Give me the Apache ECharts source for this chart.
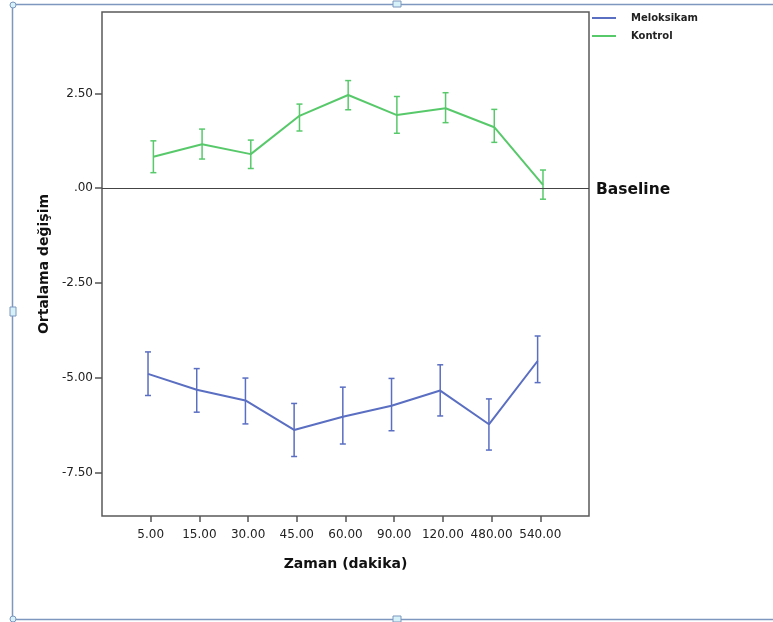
<!DOCTYPE html>
<html>
<head>
<meta charset="utf-8">
<script src="https://cdn.jsdelivr.net/npm/echarts@6/dist/echarts.min.js"></script>
<style>
html,body{margin:0;padding:0;background:#fff;}
#chart{width:773px;height:622px;}
</style>
</head>
<body>
<div id="chart"></div>
<script>
// ---- data ----
const categories = ['5.00','15.00','30.00','45.00','60.00','90.00','120.00','480.00','540.00'];
const melMean = [-4.90,-5.32,-5.60,-6.38,-6.03,-5.74,-5.34,-6.23,-4.56];
const melLow  = [-5.47,-5.91,-6.22,-7.08,-6.75,-6.40,-6.01,-6.91,-5.13];
const melHigh = [-4.32,-4.76,-5.01,-5.68,-5.25,-5.02,-4.66,-5.56,-3.90];
const konMean = [0.83,1.16,0.90,1.91,2.46,1.93,2.11,1.61,0.09];
const konLow  = [0.41,0.77,0.52,1.51,2.07,1.45,1.73,1.21,-0.29];
const konHigh = [1.25,1.56,1.27,2.22,2.84,2.42,2.52,2.08,0.48];
const yTickValues = [2.5, 0, -2.5, -5, -7.5];
const yTickLabels = ['2.50', '.00', '-2.50', '-5.00', '-7.50'];
const seriesNames = ['Meloksikam', 'Kontrol'];
const xTitle = 'Zaman (dakika)';
const yTitle = 'Ortalama değişim';
const baselineLabel = 'Baseline';

// ---- style ----
const BLUE = '#5a6ec2';
const GREEN = '#58c96b';
const FONT = 'DejaVu Sans';
const DODGE = 0.055;
const xPos = categories.map((c, i) => i + 1);

function lineData(mean, d) { return mean.map((v, i) => [xPos[i] + d, v]); }
function errData(lo, hi, d) { return lo.map((v, i) => [xPos[i] + d, v, hi[i]]); }
function errSeries(name, lo, hi, d, color) {
  return {
    type: 'custom', name: name, data: errData(lo, hi, d),
    encode: { x: 0, y: [1, 2] }, silent: true, z: 3,
    renderItem: function (params, api) {
      const x = api.value(0);
      const a = api.coord([x, api.value(1)]);
      const b = api.coord([x, api.value(2)]);
      const h = 3;
      const st = { stroke: color, lineWidth: 1.5 };
      return { type: 'group', children: [
        { type: 'line', shape: { x1: a[0], y1: a[1], x2: b[0], y2: b[1] }, style: st },
        { type: 'line', shape: { x1: a[0] - h, y1: a[1], x2: a[0] + h, y2: a[1] }, style: st },
        { type: 'line', shape: { x1: b[0] - h, y1: b[1], x2: b[0] + h, y2: b[1] }, style: st }
      ]};
    }
  };
}

const chart = echarts.init(document.getElementById('chart'), null, { renderer: 'canvas' });
chart.setOption({
  backgroundColor: '#fff',
  animation: false,
  textStyle: { fontFamily: FONT },
  grid: { left: 102, top: 12, width: 487, height: 504, show: true, borderColor: '#5a5a5a', borderWidth: 1.5, backgroundColor: 'transparent' },
  legend: {
    data: seriesNames, orient: 'vertical', left: 592, top: 13, padding: 0,
    icon: 'rect', itemWidth: 24, itemHeight: 2, itemGap: 8,
    textStyle: { fontFamily: FONT, fontWeight: 'bold', fontSize: 10, color: '#222', padding: [0, 0, 0, 10] }
  },
  xAxis: {
    type: 'value', min: 0, max: 10,
    name: xTitle, nameLocation: 'middle', nameGap: 41,
    nameTextStyle: { fontFamily: FONT, fontWeight: 'bold', fontSize: 14, color: '#111' },
    axisLine: { show: false, onZero: false },
    splitLine: { show: false },
    axisTick: { show: true, customValues: xPos, length: 6, lineStyle: { color: '#555', width: 1.5 } },
    axisLabel: { customValues: xPos, margin: 13, fontSize: 12, color: '#222', fontFamily: FONT,
      formatter: v => categories[Math.round(v) - 1] || '' }
  },
  yAxis: {
    type: 'value', min: -8.65, max: 4.65,
    name: yTitle, nameLocation: 'middle', nameGap: 50,
    nameTextStyle: { fontFamily: FONT, fontWeight: 'bold', fontSize: 14, color: '#111' },
    axisLine: { show: false, onZero: false },
    splitLine: { show: false },
    axisTick: { show: true, customValues: yTickValues, length: 7, lineStyle: { color: '#555', width: 1.5 } },
    axisLabel: { customValues: yTickValues, margin: 9, fontSize: 12, color: '#222', fontFamily: FONT,
      formatter: v => { const i = yTickValues.findIndex(t => Math.abs(t - v) < 1e-6); return i >= 0 ? yTickLabels[i] : ''; } }
  },
  series: [
    { type: 'line', name: seriesNames[0], data: lineData(melMean, -DODGE), symbol: 'none', color: BLUE,
      lineStyle: { width: 2, color: BLUE }, z: 4 },
    { type: 'line', name: seriesNames[1], data: lineData(konMean, DODGE), symbol: 'none', color: GREEN,
      lineStyle: { width: 2, color: GREEN }, z: 4,
      markLine: {
        silent: true, symbol: 'none', data: [{ yAxis: 0 }],
        lineStyle: { color: '#444', width: 1.2, type: 'solid' },
        label: { show: true, position: 'end', formatter: baselineLabel, distance: 7,
          fontFamily: FONT, fontWeight: 'bold', fontSize: 15.5, color: '#111', offset: [0, 2] }
      } },
    errSeries(seriesNames[0], melLow, melHigh, -DODGE, BLUE),
    errSeries(seriesNames[1], konLow, konHigh, DODGE, GREEN)
  ],
  graphic: [
    { type: 'polyline', silent: true, shape: { points: [[790, 4.5], [12.5, 4.5], [12.5, 619.5], [790, 619.5]] },
      style: { stroke: '#7d97bf', lineWidth: 1.5, fill: null } },
    { type: 'rect', silent: true, shape: { x: 393, y: 1, width: 8, height: 6 }, style: { fill: '#d6f1f8', stroke: '#7d97bf', lineWidth: 1 } },
    { type: 'rect', silent: true, shape: { x: 393, y: 616, width: 8, height: 6 }, style: { fill: '#d6f1f8', stroke: '#7d97bf', lineWidth: 1 } },
    { type: 'rect', silent: true, shape: { x: 10, y: 307, width: 6, height: 9 }, style: { fill: '#d6f1f8', stroke: '#7d97bf', lineWidth: 1 } },
    { type: 'circle', silent: true, shape: { cx: 13, cy: 5, r: 3 }, style: { fill: '#d6f1f8', stroke: '#7d97bf', lineWidth: 1 } },
    { type: 'circle', silent: true, shape: { cx: 13, cy: 619, r: 3 }, style: { fill: '#d6f1f8', stroke: '#7d97bf', lineWidth: 1 } }
  ]
});
</script>
</body>
</html>
